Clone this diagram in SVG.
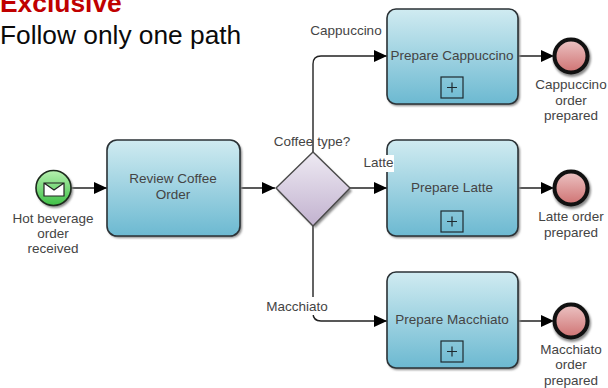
<svg xmlns="http://www.w3.org/2000/svg" width="608" height="388" viewBox="0 0 608 388">
<style>
text{font-family:"Liberation Sans",Arial,sans-serif;font-size:13.500px;fill:#444;text-anchor:middle}
.task{fill:url(#tg);stroke:#2b3236;stroke-width:1.6}
.shadow{fill:#8a8a8a;filter:url(#sb)}
.end{fill:url(#eg);stroke:#111;stroke-width:4}
.conn{fill:none;stroke:#222;stroke-width:1.4}
.plus{fill:none;stroke:#1e2a30;stroke-width:1.200}
</style>
<defs>
<filter id="sb" x="-10%" y="-10%" width="120%" height="120%"><feGaussianBlur stdDeviation="1"/></filter>
<filter id="soft" x="0" y="0" width="100%" height="100%" filterUnits="userSpaceOnUse" primitiveUnits="userSpaceOnUse"><feGaussianBlur stdDeviation="0.350"/></filter>
<linearGradient id="tg" x1="0" y1="0" x2="0" y2="1"><stop offset="0" stop-color="#d0ebf1"/><stop offset="1" stop-color="#6cb9d1"/></linearGradient>
<linearGradient id="eg" x1="0" y1="0" x2="0" y2="1"><stop offset="0" stop-color="#ecc4c4"/><stop offset="1" stop-color="#cf7272"/></linearGradient>
<linearGradient id="sg" x1="0" y1="0" x2="0" y2="1"><stop offset="0" stop-color="#b6f0b0"/><stop offset="1" stop-color="#3fc046"/></linearGradient>
<linearGradient id="gg" x1="0" y1="0" x2="0" y2="1"><stop offset="0" stop-color="#eeeaf3"/><stop offset="1" stop-color="#c2b2cf"/></linearGradient>
<marker id="arrow" markerUnits="userSpaceOnUse" markerWidth="14" markerHeight="14" refX="13" refY="7" orient="auto"><path d="M0 1L13 7L0 13Z" fill="#000"/></marker>
</defs>
<g id="title">
<text x="0" y="12" style="font-size:26.400px;font-weight:bold;fill:#c00000;text-anchor:start">Exclusive</text>
<text x="0" y="44" style="font-size:26.300px;fill:#0a0a0a;text-anchor:start">Follow only one path</text>
</g>
<g id="connectors">
<path class="conn" marker-end="url(#arrow)" d="M71 188H107"/>
<path class="conn" marker-end="url(#arrow)" d="M241 188H275"/>
<path class="conn" marker-end="url(#arrow)" d="M350 188H387"/>
<path class="conn" marker-end="url(#arrow)" d="M313 152V64Q313 56 321 56H387"/>
<path class="conn" marker-end="url(#arrow)" d="M313 226V313Q313 321 321 321H387"/>
<path class="conn" marker-end="url(#arrow)" d="M518 56H554"/>
<path class="conn" marker-end="url(#arrow)" d="M518 188H554"/>
<path class="conn" marker-end="url(#arrow)" d="M518 321H554"/>
</g>
<g id="start">
<circle class="shadow" cx="55" cy="190" r="18"/>
<circle cx="53.500" cy="188" r="17.500" fill="url(#sg)" stroke="#1d2a1d" stroke-width="1.600"/>
<path d="M44 183H64V196H44ZM44 183L54 190L64 183" fill="#fff" stroke="#222" stroke-width="1.200"/>
<text x="53" y="223">Hot beverage</text><text x="53" y="238">order</text><text x="53" y="253">received</text>
</g>
<g id="review">
<rect class="shadow" x="108" y="142" width="134" height="96" rx="10"/>
<rect class="task" x="107" y="140" width="133" height="96" rx="10"/>
<text x="173" y="183">Review Coffee</text><text x="173" y="199">Order</text>
</g>
<g id="gateway">
<path class="shadow" d="M315 154L352 191L315 228L278 191Z"/>
<path d="M313 152L350 188L313 226L276 188Z" fill="url(#gg)" stroke="#4a4a4a" stroke-width="1.400"/>
<text x="312" y="146">Coffee type?</text>
</g>
<g id="prep-cappuccino">
<rect class="shadow" x="388" y="11" width="132" height="95" rx="9"/>
<rect class="task" x="387" y="9" width="131" height="95" rx="9"/>
<text x="452" y="60">Prepare Cappuccino</text>
<rect class="plus" x="441" y="77" width="22" height="21"/><path class="plus" d="M447 87.500H457M452 82.500V92.500"/>
</g>
<g id="prep-latte">
<rect class="shadow" x="388" y="142" width="132" height="96" rx="9"/>
<rect class="task" x="387" y="140" width="131" height="96" rx="9"/>
<text x="452" y="192">Prepare Latte</text>
<rect class="plus" x="441" y="211" width="22" height="21"/><path class="plus" d="M447 221.500H457M452 216.500V226.500"/>
</g>
<g id="prep-macchiato">
<rect class="shadow" x="388" y="274" width="132" height="96" rx="9"/>
<rect class="task" x="387" y="272" width="131" height="96" rx="9"/>
<text x="452" y="324">Prepare Macchiato</text>
<rect class="plus" x="441" y="341" width="22" height="21"/><path class="plus" d="M447 351.500H457M452 346.500V356.500"/>
</g>
<g id="end-cappuccino">
<circle class="shadow" cx="572" cy="58" r="19"/><circle class="end" cx="571" cy="56" r="16.500"/>
<text x="571" y="89">Cappuccino</text><text x="571" y="105">order</text><text x="571" y="120">prepared</text>
</g>
<g id="end-latte">
<circle class="shadow" cx="572" cy="190" r="19"/><circle class="end" cx="571" cy="188" r="16.500"/>
<text x="571" y="221">Latte order</text><text x="571" y="237">prepared</text>
</g>
<g id="end-macchiato">
<circle class="shadow" cx="572" cy="323" r="19"/><circle class="end" cx="571" cy="321" r="16.500"/>
<text x="571" y="354">Macchiato</text><text x="571" y="369">order</text><text x="571" y="385">prepared</text>
</g>
<g id="edge-labels">
<text x="346" y="35">Cappuccino</text>
<rect x="362" y="155" width="32" height="17" fill="#fff"/>
<text x="378.500" y="167">Latte</text>
<rect x="265" y="297" width="66" height="18" fill="#fff"/>
<text x="297" y="311">Macchiato</text>
</g>
</svg>
